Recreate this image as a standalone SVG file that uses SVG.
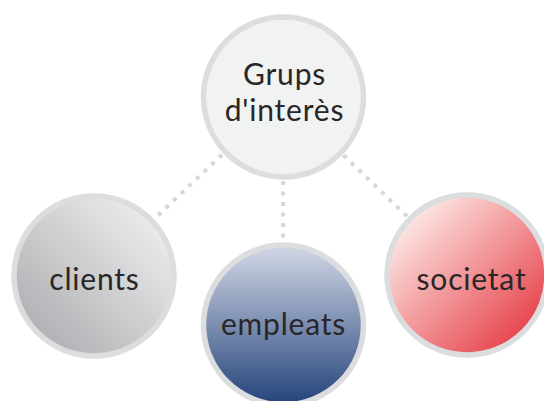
<svg xmlns="http://www.w3.org/2000/svg" width="544" height="401" viewBox="0 0 544 401">
<style>
.ring{stroke:#dcddde;stroke-width:5.5}
.lbl{font-family:Lato,"Noto Sans",sans-serif;font-size:30px;letter-spacing:0.8px;fill:#2a2627;text-anchor:middle}
.con{stroke:#d6d7d8;stroke-width:4;stroke-dasharray:4 6.5;fill:none}
</style>
<defs>
<linearGradient id="gClients" x1="1" y1="0" x2="0" y2="1">
<stop offset="0" stop-color="#f6f6f6"/>
<stop offset="1" stop-color="#a4a6a9"/>
</linearGradient>
<linearGradient id="gEmp" x1="0" y1="0" x2="0" y2="1">
<stop offset="0" stop-color="#d3d8e6"/>
<stop offset="1" stop-color="#23437a"/>
</linearGradient>
<linearGradient id="gSoc" x1="0" y1="0" x2="1" y2="1">
<stop offset="0.1" stop-color="#fdf0ec"/>
<stop offset="0.95" stop-color="#e5303a"/>
</linearGradient>
</defs>
<g id="connectors">
<line class="con" x1="283" y1="97" x2="94" y2="276"/>
<line class="con" x1="283" y1="97" x2="283" y2="325"/>
<line class="con" x1="283" y1="97" x2="468" y2="275"/>
</g>
<g id="grups">
<circle class="ring" cx="283.5" cy="97" r="80" fill="#f1f2f2"/>
<text class="lbl" x="284.5" y="85">Grups</text>
<text class="lbl" x="284.5" y="121">d'interès</text>
</g>
<g id="clients">
<circle class="ring" cx="94" cy="276" r="80" fill="url(#gClients)"/>
<text class="lbl" x="94.5" y="290">clients</text>
</g>
<g id="empleats">
<circle class="ring" cx="283.5" cy="325" r="80" fill="url(#gEmp)"/>
<text class="lbl" x="283.5" y="335">empleats</text>
</g>
<g id="societat">
<circle class="ring" cx="467" cy="275" r="80" fill="url(#gSoc)"/>
<text class="lbl" x="471.5" y="290">societat</text>
</g>
</svg>
